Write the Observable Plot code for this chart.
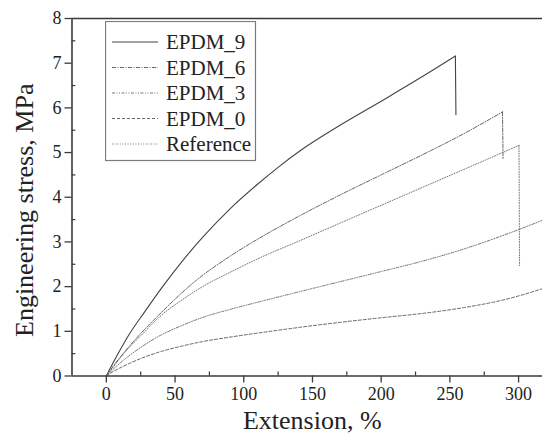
<!DOCTYPE html>
<html>
<head>
<meta charset="utf-8">
<script src="https://cdn.jsdelivr.net/npm/d3@7"></script>
<script src="https://cdn.jsdelivr.net/npm/@observablehq/plot@0.6"></script>
<style>
html, body { margin: 0; padding: 0; background: #fff; font-family: "Liberation Serif"; }
#chart { position: relative; width: 542px; height: 443px; overflow: hidden; font-family: "Liberation Serif"; }
#legend { position: absolute; left: 105px; top: 21px; }
</style>
</head>
<body>
<div id="chart"></div>
<script>
// ---- data ----
const ext9     = [0, 5, 10, 16, 28, 40, 55, 70, 90, 110, 125, 141, 170, 200, 230, 254, 254.4];
const stress9  = [0, 0.30, 0.58, 0.90, 1.44, 1.96, 2.56, 3.10, 3.74, 4.29, 4.67, 5.04, 5.61, 6.15, 6.70, 7.16, 5.85];

const ext6     = [0, 5, 10, 16, 25, 40, 50, 65, 90, 110, 141, 170, 200, 230, 260, 288.3, 288.7];
const stress6  = [0, 0.22, 0.42, 0.64, 0.95, 1.42, 1.72, 2.13, 2.68, 3.06, 3.59, 4.05, 4.50, 4.95, 5.42, 5.91, 4.86];

const ext3     = [0, 5, 10, 16, 25, 40, 55, 70, 90, 110, 141, 170, 199, 230, 260, 290, 317];
const stress3  = [0, 0.15, 0.29, 0.44, 0.64, 0.92, 1.13, 1.31, 1.49, 1.65, 1.89, 2.11, 2.33, 2.57, 2.84, 3.16, 3.48];

const ext0     = [0, 5, 10, 16, 25, 40, 55, 70, 90, 110, 141, 170, 199, 230, 260, 290, 317];
const stress0  = [0, 0.10, 0.18, 0.27, 0.39, 0.55, 0.67, 0.77, 0.87, 0.96, 1.09, 1.20, 1.30, 1.40, 1.53, 1.71, 1.95];

const extRef    = [0, 5, 10, 16, 25, 40, 55, 70, 90, 110, 141, 170, 200, 230, 260, 300.3, 300.7];
const stressRef = [0, 0.20, 0.40, 0.62, 0.90, 1.36, 1.70, 2.00, 2.32, 2.62, 3.03, 3.42, 3.82, 4.22, 4.62, 5.16, 2.47];

const seriesNames = ["EPDM_9", "EPDM_6", "EPDM_3", "EPDM_0", "Reference"];
const breaks = {"EPDM_9": true, "EPDM_6": true, "EPDM_3": false, "EPDM_0": false, "Reference": true};
const xTicks = [0, 50, 100, 150, 200, 250, 300];
const xMinor = [25, 75, 125, 175, 225, 275];
const yTicks = [0, 1, 2, 3, 4, 5, 6, 7, 8];
const yMinor = [0.5, 1.5, 2.5, 3.5, 4.5, 5.5, 6.5, 7.5];
const xTitle = "Extension, %";
const yTitle = "Engineering stress, MPa";

// ---- build ----
const toRows = (xs, ys) => xs.map((x, i) => ({x, y: ys[i]}));
const rows = {
  "EPDM_9": toRows(ext9, stress9),
  "EPDM_6": toRows(ext6, stress6),
  "EPDM_3": toRows(ext3, stress3),
  "EPDM_0": toRows(ext0, stress0),
  "Reference": toRows(extRef, stressRef)
};
const styles = {
  "EPDM_9":    {stroke: "#444", strokeWidth: 1.1, dash: null},
  "EPDM_6":    {stroke: "#666", strokeWidth: 1, dash: "4,1.5,1,1.5"},
  "EPDM_3":    {stroke: "#777", strokeWidth: 1, dash: "3,1.5,1,1.5,1,1.5"},
  "EPDM_0":    {stroke: "#666", strokeWidth: 1, dash: "3,2"},
  "Reference": {stroke: "#777", strokeWidth: 1, dash: "1,1.6"}
};
const FONT = "Liberation Serif";

const lineMarks = [];
for (const n of seriesNames) {
  const r = rows[n];
  const main = breaks[n] ? r.slice(0, -1) : r;
  const opts = {x: "x", y: "y", stroke: styles[n].stroke, strokeWidth: styles[n].strokeWidth, strokeDasharray: styles[n].dash};
  lineMarks.push(Plot.line(main, {...opts, curve: "monotone-x"}));
  if (breaks[n]) lineMarks.push(Plot.line(r.slice(-2), {...opts, curve: "linear"}));
}

const axisColor = "#3a3a3a";
const chart = Plot.plot({
  width: 542,
  height: 443,
  marginLeft: 71.5,
  marginRight: 0,
  marginTop: 18,
  marginBottom: 67.5,
  style: {color: "#222", background: "#fff"},
  x: {domain: [-25, 317.4]},
  y: {domain: [0, 8]},
  marks: [
    ...lineMarks,
    // minor ticks (inward)
    Plot.ruleX(xMinor, {x: d => d, y1: 0, y2: 0.09, stroke: axisColor, strokeWidth: 1.2}),
    Plot.ruleY(yMinor, {y: d => d, x1: -25, x2: -22.2, stroke: axisColor, strokeWidth: 1.2}),
    // axes
    Plot.axisX({ticks: xTicks, tickSize: 7, tickPadding: 4.5, fontSize: 18, label: null, stroke: axisColor, strokeWidth: 1.3}),
    Plot.axisY({ticks: yTicks, tickSize: 7, tickPadding: 3.5, fontSize: 18, label: null, stroke: axisColor, strokeWidth: 1.3, tickFormat: d => String(d)}),
    Plot.ruleY([0], {stroke: axisColor, strokeWidth: 1.6}),
    Plot.ruleY([8], {stroke: axisColor, strokeWidth: 1.6}),
    Plot.ruleX([-25], {stroke: axisColor, strokeWidth: 1.6}),
    // axis titles
    Plot.text([xTitle], {frameAnchor: "bottom", textAnchor: "middle", lineAnchor: "bottom", dx: 5, dy: 52.5, fontSize: 26, fill: "#222"}),
    Plot.text([yTitle], {frameAnchor: "left", textAnchor: "middle", lineAnchor: "bottom", rotate: -90, dx: -39.5, dy: 13, fontSize: 26, fill: "#222"})
  ]
});
chart.style.fontFamily = FONT;
chart.querySelectorAll("text").forEach(el => { el.style.fontFamily = FONT; });
document.getElementById("chart").appendChild(chart);

// ---- legend (box with line samples) ----
const ns = "http://www.w3.org/2000/svg";
const leg = document.createElementNS(ns, "svg");
leg.setAttribute("id", "legend");
leg.setAttribute("width", 152);
leg.setAttribute("height", 141);
const box = document.createElementNS(ns, "rect");
box.setAttribute("x", 0.5); box.setAttribute("y", 0.5);
box.setAttribute("width", 150); box.setAttribute("height", 139);
box.setAttribute("fill", "#fff"); box.setAttribute("stroke", "#7a7a7a"); box.setAttribute("stroke-width", 1.2);
leg.appendChild(box);
seriesNames.forEach((n, i) => {
  const cy = 21 + i * 25.5;
  const ln = document.createElementNS(ns, "line");
  ln.setAttribute("x1", 7); ln.setAttribute("x2", 53);
  ln.setAttribute("y1", cy); ln.setAttribute("y2", cy);
  ln.setAttribute("stroke", styles[n].stroke);
  ln.setAttribute("stroke-width", styles[n].strokeWidth);
  if (styles[n].dash) ln.setAttribute("stroke-dasharray", styles[n].dash);
  leg.appendChild(ln);
  const t = document.createElementNS(ns, "text");
  t.setAttribute("x", 61); t.setAttribute("y", cy + 7);
  t.setAttribute("font-size", 21);
  t.style.fontFamily = FONT;
  t.setAttribute("fill", "#222");
  t.textContent = n;
  leg.appendChild(t);
});
document.getElementById("chart").appendChild(leg);
</script>
</body>
</html>
